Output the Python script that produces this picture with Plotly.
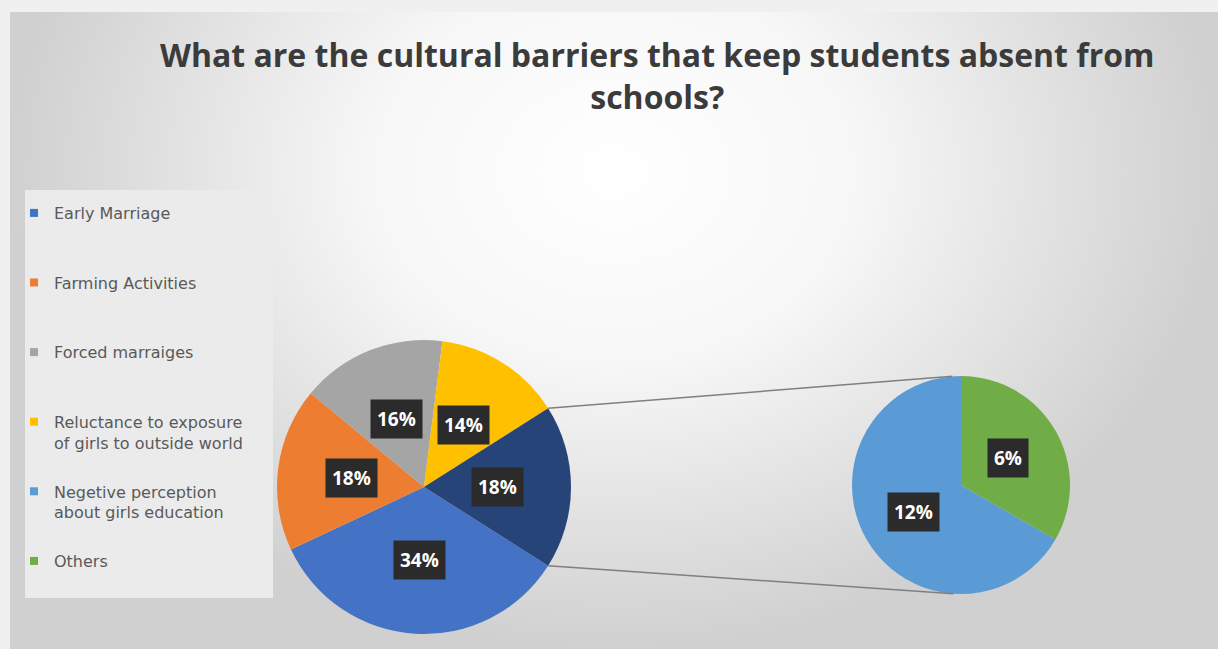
import math
import plotly.graph_objects as go

# ---------------- data ----------------
main_labels = ["Early Marriage", "Farming Activities", "Forced marraiges",
               "Reluctance to exposure of girls to outside world", "Other"]
main_values = [34, 18, 16, 14, 18]
main_colors = ["#4472C4", "#ED7D31", "#A5A5A5", "#FFC000", "#264478"]

sub_labels = ["Negetive perception about girls education", "Others"]
sub_values = [12, 6]
sub_colors = ["#5B9BD5", "#70AD47"]

legend_names = ["Early Marriage<br> ", "Farming Activities<br> ", "Forced marraiges<br> ",
                "Reluctance to exposure<br>of girls to outside world",
                "Negetive perception<br>about girls education", "Others<br> "]
legend_colors = ["#4472C4", "#ED7D31", "#A5A5A5", "#FFC000", "#5B9BD5", "#70AD47"]

title_text = "What are the cultural barriers that keep students absent from<br>schools?"

# ---------------- layout geometry (pixels) ----------------
W, H = 1218, 649
MAIN_C, MAIN_R = (424, 487), 147
SUB_C, SUB_R = (961, 485), 109
MAIN_ROT, SUB_ROT = 122.4, 120.0


def fx(x):
    return x / W


def fy(y):
    return 1 - y / H


def domain(c, r):
    return dict(x=[fx(c[0] - r), fx(c[0] + r)], y=[fy(c[1] + r), fy(c[1] - r)])


def pt(c, r, ang):
    a = math.radians(ang)
    return (c[0] + r * math.sin(a), c[1] - r * math.cos(a))


fig = go.Figure()

# background radial gradient
fig.add_trace(go.Scatter(
    x=[0, 1, 1, 0, 0], y=[0, 0, 1.5, 1.5, 0], mode="lines", fill="toself",
    line=dict(width=0), hoverinfo="skip", showlegend=False,
    fillgradient=dict(type="radial",
                      colorscale=[[0, "#ffffff"], [0.4, "#f7f7f7"], [1, "#d0d0d0"]]),
    xaxis="x", yaxis="y"))

# legend dummies
for i, (n, c) in enumerate(zip(legend_names, legend_colors)):
    fig.add_trace(go.Scatter(x=[None], y=[None], mode="markers", name=n,
                             legendgroup=str(i),
                             marker=dict(symbol="square", size=8, color=c),
                             xaxis="x", yaxis="y"))

fig.add_trace(go.Pie(labels=main_labels, values=main_values, sort=False,
                     direction="clockwise", rotation=MAIN_ROT,
                     marker=dict(colors=main_colors, line=dict(width=0)),
                     textinfo="none", hoverinfo="label+percent", showlegend=False,
                     domain=domain(MAIN_C, MAIN_R)))
fig.add_trace(go.Pie(labels=sub_labels, values=sub_values, sort=False,
                     direction="clockwise", rotation=SUB_ROT,
                     marker=dict(colors=sub_colors, line=dict(width=0)),
                     textinfo="none", hoverinfo="label+percent", showlegend=False,
                     domain=domain(SUB_C, SUB_R)))

annotations = []


def add_labels(values, c, r, rot, total):
    cum = 0
    for v in values:
        mid = rot + 360 * (cum + v / 2) / total
        x, y = pt(c, r * 0.5, mid)
        annotations.append(dict(
            x=fx(x), y=fy(y), xref="paper", yref="paper", showarrow=False,
            text=f"<b>{v}%</b>", font=dict(family="Open Sans", size=19, color="white"),
            bgcolor="#2b2b2b", borderpad=6, xanchor="center", yanchor="middle"))
        cum += v


total_main = sum(main_values)
add_labels(main_values, MAIN_C, MAIN_R, MAIN_ROT, total_main)
add_labels(sub_values, SUB_C, SUB_R, SUB_ROT, sum(sub_values))

annotations.append(dict(
    x=fx(657), y=fy(31), xref="paper", yref="paper", showarrow=False,
    xanchor="center", yanchor="top", align="center",
    text=f"<b>{title_text}</b>",
    font=dict(family="Open Sans", size=32, color="#3b3b3b")))

# connector lines from the aggregated slice to the second pie (tangent points)
agg_start = MAIN_ROT + 360 * sum(main_values[:-1]) / total_main
agg_end = agg_start + 360 * main_values[-1] / total_main
shapes = [dict(type="rect", xref="paper", yref="paper", x0=fx(25), x1=fx(273),
               y0=fy(598), y1=fy(190), fillcolor="#ebebeb", line=dict(width=0),
               layer="above")]
for ang, sgn in [(agg_start, 1), (agg_end, -1)]:
    px, py = pt(MAIN_C, MAIN_R, ang)
    dx, dy = px - SUB_C[0], py - SUB_C[1]
    d = math.hypot(dx, dy)
    base = math.atan2(dy, dx)
    t = base + sgn * math.acos(SUB_R / d)
    tx, ty = SUB_C[0] + SUB_R * math.cos(t), SUB_C[1] + SUB_R * math.sin(t)
    shapes.append(dict(type="line", xref="paper", yref="paper",
                       x0=fx(px), y0=fy(py), x1=fx(tx), y1=fy(ty),
                       line=dict(color="#7f7f7f", width=1.5), layer="above"))

fig.update_layout(
    width=W, height=H, margin=dict(l=0, r=0, t=0, b=0),
    paper_bgcolor="#f0f0f0", plot_bgcolor="rgba(0,0,0,0)",
    xaxis=dict(range=[0, 1], visible=False, domain=[fx(10), 1], fixedrange=True),
    yaxis=dict(range=[0, 1], visible=False, domain=[0, fy(12)], fixedrange=True),
    legend=dict(x=fx(14), y=fy(196), xanchor="left", yanchor="top",
                bgcolor="rgba(0,0,0,0)", tracegroupgap=25, valign="top",
                font=dict(family="DejaVu Sans", size=16, color="#595959")),
    annotations=annotations, shapes=shapes, showlegend=True,
)

fig.write_html("out.html")
